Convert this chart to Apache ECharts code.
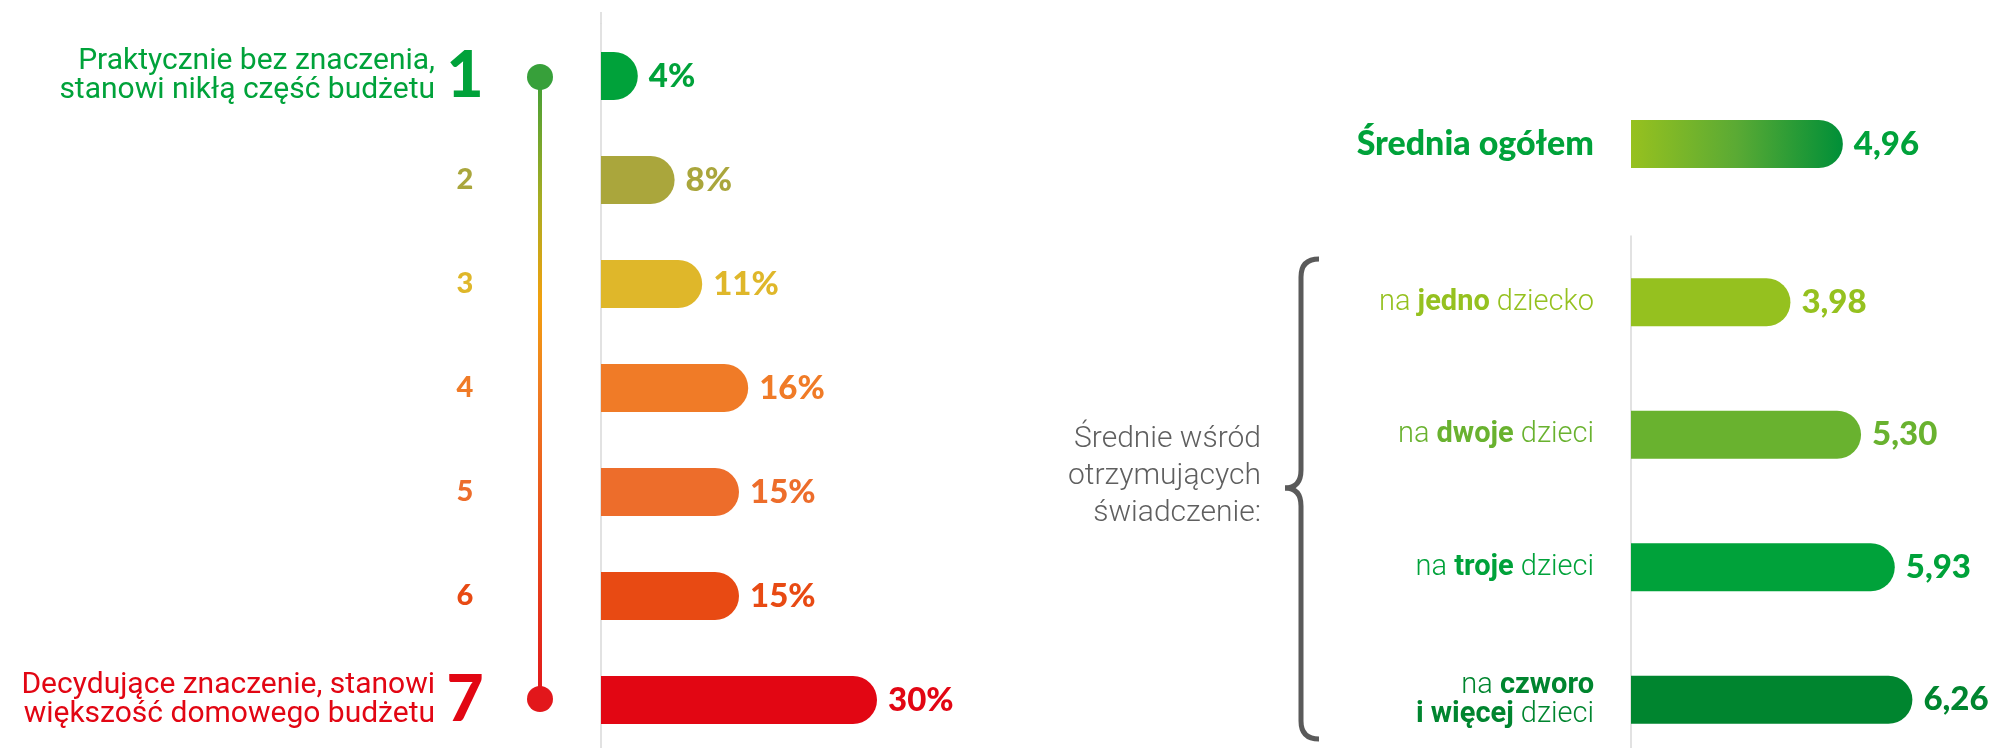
<!DOCTYPE html>
<html>
<head>
<meta charset="utf-8">
<script src="https://cdn.jsdelivr.net/npm/echarts@6/dist/echarts.min.js"></script>
</head>
<body style="margin:0;background:#fff">
<div id="container" style="width:2000px;height:748px"></div>
<script>
// left: share of answers per level (1 = negligible ... 7 = decisive)
var levels = ['1', '2', '3', '4', '5', '6', '7'];
var levelShare = [4, 8, 11, 16, 15, 15, 30];
var levelColors = ['#00a23a', '#aaa63c', '#dfb72a', '#f07b27', '#ed6d2b', '#e84a13', '#e20613'];
var levelNotes = ['Praktycznie bez znaczenia,\nstanowi nikłą część budżetu', '', '', '', '', '',
                  'Decydujące znaczenie, stanowi\nwiększość domowego budżetu'];

// right: averages
var totalLabel = 'Średnia ogółem';
var totalValue = 4.96;
var childBold = ['jedno', 'dwoje', 'troje', 'czworo\ni więcej'];
var childTail = ['dziecko', 'dzieci', 'dzieci', 'dzieci'];
var childValues = [3.98, 5.30, 5.93, 6.26];
var childColors = ['#95c11f', '#69b22f', '#00a23a', '#00852f'];
var groupNote = 'Średnie wśród\notrzymujących\nświadczenie:';

var NUM_FONT = 'Lato';
var TXT_FONT = 'Roboto';

var dom = document.getElementById('container');
var myChart = echarts.init(dom);

var numRich = {};
levels.forEach(function (l, i) {
    var big = (i === 0 || i === levels.length - 1);
    numRich['n' + i] = {
        color: levelColors[i],
        fontFamily: NUM_FONT,
        fontWeight: 900,
        fontSize: big ? 64 : 29
    };
});

var noteRich = {
    top: { color: levelColors[0], fontFamily: TXT_FONT, fontSize: 30, lineHeight: 29 },
    bottom: { color: levelColors[6], fontFamily: TXT_FONT, fontSize: 30, lineHeight: 29 }
};

var childRich = {};
childValues.forEach(function (v, i) {
    childRich['l' + i] = { color: childColors[i], fontFamily: TXT_FONT, fontWeight: 300, fontSize: 29, lineHeight: 29 };
    childRich['b' + i] = { color: childColors[i], fontFamily: TXT_FONT, fontWeight: 700, fontSize: 29, lineHeight: 29 };
});

var levelData = levelShare.map(function (v, i) {
    return { value: v, itemStyle: { color: levelColors[i] }, label: { color: levelColors[i] } };
});
var childData = childValues.map(function (v, i) {
    return { value: v, itemStyle: { color: childColors[i] }, label: { color: childColors[i] } };
});

var valueLabel = {
    show: true,
    position: 'right',
    distance: 11,
    fontFamily: NUM_FONT,
    fontWeight: 900,
    fontSize: 33
};

// brace pieces
var braceStyle = { stroke: '#5a5a5a', lineWidth: 5, fill: 'none' };
var brace = [
    { type: 'bezierCurve', shape: { x1: 1319, y1: 259, cpx1: 1301, cpy1: 259, x2: 1301, y2: 277 } },
    { type: 'line', shape: { x1: 1301, y1: 277, x2: 1301, y2: 470 } },
    { type: 'bezierCurve', shape: { x1: 1301, y1: 470, cpx1: 1301, cpy1: 488, x2: 1285, y2: 488 } },
    { type: 'bezierCurve', shape: { x1: 1285, y1: 488, cpx1: 1301, cpy1: 488, x2: 1301, y2: 506 } },
    { type: 'line', shape: { x1: 1301, y1: 506, x2: 1301, y2: 721 } },
    { type: 'bezierCurve', shape: { x1: 1301, y1: 721, cpx1: 1301, cpy1: 739, x2: 1319, y2: 739 } }
].map(function (el) {
    el.silent = true;
    el.style = braceStyle;
    return el;
});

var option = {
    backgroundColor: '#fff',
    animation: false,
    grid: [
        { left: 601, top: 24, width: 368, height: 728, outerBoundsMode: 'none' },
        { left: 1631, top: 94, width: 321, height: 100, outerBoundsMode: 'none' },
        { left: 1631, top: 236, width: 321, height: 530, outerBoundsMode: 'none' }
    ],
    xAxis: [
        { gridIndex: 0, type: 'value', min: 0, max: 40, show: false },
        { gridIndex: 1, type: 'value', min: 1, max: 7, show: false },
        { gridIndex: 2, type: 'value', min: 1, max: 7, show: false }
    ],
    yAxis: [
        {
            gridIndex: 0, type: 'category', data: levels, inverse: true, position: 'left',
            axisLine: { show: true, lineStyle: { color: '#d9d9d9', width: 1.5 } },
            axisTick: { show: false },
            axisLabel: {
                interval: 0, margin: 136, align: 'center',
                formatter: function (v, i) { return '{n' + i + '|' + v + '}'; },
                rich: numRich
            }
        },
        {
            gridIndex: 0, type: 'category', data: levelNotes, inverse: true, position: 'left',
            axisLine: { show: false }, axisTick: { show: false },
            axisLabel: {
                interval: 0, margin: 166, align: 'right',
                formatter: function (v, i) {
                    if (!v) return '';
                    return '{' + (i === 0 ? 'top' : 'bottom') + '|' + v + '}';
                },
                rich: noteRich
            }
        },
        {
            gridIndex: 1, type: 'category', data: [totalLabel], position: 'left',
            axisLine: { show: false }, axisTick: { show: false },
            axisLabel: {
                margin: 37, color: '#00a23a', fontFamily: NUM_FONT, fontWeight: 900, fontSize: 34
            }
        },
        {
            gridIndex: 2, type: 'category', data: childBold, inverse: true, position: 'left',
            axisLine: { show: true, lineStyle: { color: '#d9d9d9', width: 1.5 } },
            axisTick: { show: false },
            axisLabel: {
                interval: 0, margin: 37, align: 'right',
                formatter: function (v, i) {
                    return '{l' + i + '|na }{b' + i + '|' + v + '}{l' + i + '| ' + childTail[i] + '}';
                },
                rich: childRich
            }
        }
    ],
    series: [
        {
            type: 'bar', xAxisIndex: 0, yAxisIndex: 0, barWidth: 48,
            data: levelData,
            itemStyle: { borderRadius: [0, 24, 24, 0] },
            label: Object.assign({}, valueLabel, { formatter: '{c}%' })
        },
        {
            type: 'bar', xAxisIndex: 1, yAxisIndex: 2, barWidth: 48,
            data: [totalValue],
            itemStyle: {
                borderRadius: [0, 24, 24, 0],
                color: new echarts.graphic.LinearGradient(0, 0, 1, 0, [
                    { offset: 0, color: '#97c11f' },
                    { offset: 0.5, color: '#5aaa34' },
                    { offset: 1, color: '#008f38' }
                ])
            },
            label: Object.assign({}, valueLabel, {
                color: '#00a23a',
                formatter: function (p) { return p.value.toFixed(2).replace('.', ','); }
            })
        },
        {
            type: 'bar', xAxisIndex: 2, yAxisIndex: 3, barWidth: 48,
            data: childData,
            itemStyle: { borderRadius: [0, 24, 24, 0] },
            label: Object.assign({}, valueLabel, {
                formatter: function (p) { return p.value.toFixed(2).replace('.', ','); }
            })
        }
    ],
    graphic: [
        // top stub of the left baseline
        {
            type: 'line', silent: true,
            shape: { x1: 601, y1: 12, x2: 601, y2: 24 },
            style: { stroke: '#d9d9d9', lineWidth: 1.5 }
        },
        // scale line from 1 to 7
        {
            type: 'rect', silent: true,
            shape: { x: 538, y: 77, width: 4, height: 622 },
            style: {
                fill: new echarts.graphic.LinearGradient(0, 0, 0, 1, [
                    { offset: 0, color: '#3f9f37' },
                    { offset: 0.2, color: '#a9ad22' },
                    { offset: 0.36, color: '#f1a00e' },
                    { offset: 0.5, color: '#f07d22' },
                    { offset: 0.75, color: '#e94a1a' },
                    { offset: 1, color: '#e2171b' }
                ])
            }
        },
        { type: 'circle', silent: true, shape: { cx: 540, cy: 77, r: 13 }, style: { fill: '#37a03a' } },
        { type: 'circle', silent: true, shape: { cx: 540, cy: 699, r: 13 }, style: { fill: '#e2171b' } },
        {
            type: 'text', silent: true,
            style: {
                text: groupNote, x: 1261, y: 476, align: 'right', verticalAlign: 'middle',
                fontFamily: TXT_FONT, fontWeight: 300, fontSize: 30, lineHeight: 37, fill: '#5f5f5f'
            }
        }
    ].concat(brace)
};

myChart.setOption(option);
</script>
</body>
</html>
